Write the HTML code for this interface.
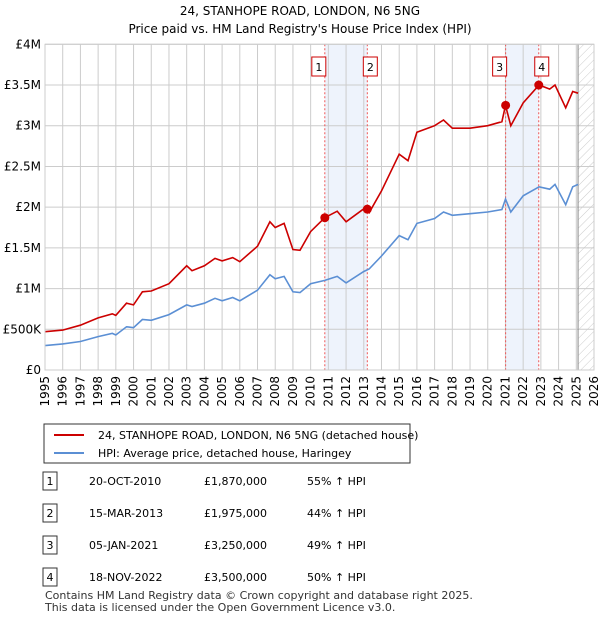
<!DOCTYPE html>
<html><head><meta charset="utf-8"><style>
body{margin:0;background:#fff;font-family:"Liberation Sans","DejaVu Sans",sans-serif;}
svg text{font-family:"DejaVu Sans","Liberation Sans",sans-serif;}
</style></head><body>
<svg id="chart" width="600" height="620" xmlns="http://www.w3.org/2000/svg">
<text x="300" y="15" text-anchor="middle" font-size="12">24, STANHOPE ROAD, LONDON, N6 5NG</text>
<text x="300" y="33" text-anchor="middle" font-size="12">Price paid vs. HM Land Registry's House Price Index (HPI)</text>
<g id="plot"></g>
<g>
<rect x="44" y="424" width="366" height="39" fill="#fff" stroke="#333"/>
<line x1="54" y1="435" x2="84" y2="435" stroke="#cc0000" stroke-width="2"/>
<text x="98" y="439" font-size="11">24, STANHOPE ROAD, LONDON, N6 5NG (detached house)</text>
<line x1="54" y1="453" x2="84" y2="453" stroke="#5b8fd4" stroke-width="2"/>
<text x="98" y="457" font-size="11">HPI: Average price, detached house, Haringey</text>
</g>
<g id="table" font-size="11"></g>
<text x="45" y="599" font-size="11" fill="#333">Contains HM Land Registry data © Crown copyright and database right 2025.</text>
<text x="45" y="611" font-size="11" fill="#333">This data is licensed under the Open Government Licence v3.0.</text>
</svg>
<script>
const hpiYears=[1995,1996,1997,1998,1998.8,1999,1999.6,2000,2000.5,2001,2002,2003,2003.3,2004,2004.6,2005,2005.6,2006,2007,2007.7,2008,2008.5,2009,2009.4,2010,2010.8,2011.5,2012,2013,2013.3,2014,2015,2015.5,2016,2017,2017.5,2018,2019,2020,2020.8,2021,2021.3,2022,2022.9,2023.5,2023.8,2024.4,2024.8,2025.1];
const hpiValues=[0.30,0.32,0.35,0.41,0.45,0.43,0.53,0.52,0.62,0.61,0.68,0.80,0.78,0.82,0.88,0.85,0.89,0.85,0.98,1.17,1.12,1.15,0.96,0.95,1.06,1.10,1.15,1.07,1.21,1.24,1.40,1.65,1.60,1.80,1.86,1.94,1.90,1.92,1.94,1.97,2.10,1.94,2.14,2.25,2.22,2.28,2.03,2.25,2.28];
const priceValues=[0.47,0.49,0.55,0.64,0.69,0.67,0.82,0.80,0.96,0.97,1.06,1.28,1.22,1.28,1.37,1.34,1.38,1.33,1.52,1.82,1.75,1.80,1.48,1.47,1.70,1.87,1.95,1.82,1.98,1.93,2.20,2.65,2.57,2.92,3.00,3.07,2.97,2.97,3.00,3.05,3.25,3.00,3.28,3.50,3.45,3.50,3.22,3.42,3.40];
const saleYears=[2010.8,2013.2,2021.01,2022.88];
const saleValues=[1.87,1.975,3.25,3.5];
const saleLabels=["1","2","3","4"];
const saleDates=["20-OCT-2010","15-MAR-2013","05-JAN-2021","18-NOV-2022"];
const salePrices=["£1,870,000","£1,975,000","£3,250,000","£3,500,000"];
const salePct=["55% ↑ HPI","44% ↑ HPI","49% ↑ HPI","50% ↑ HPI"];
const yTicks=[0,0.5,1,1.5,2,2.5,3,3.5,4];
const yTickLabels=["£0","£500K","£1M","£1.5M","£2M","£2.5M","£3M","£3.5M","£4M"];
const NS="http://www.w3.org/2000/svg";
const X0=45,X1=594,Y0=370,Y1=44.3;
const xs=y=>X0+(y-1995)*(X1-X0)/31;
const ys=v=>Y0-v*(Y0-Y1)/4;
const plot=document.getElementById('plot');
function mk(tag,attrs,parent){const e=document.createElementNS(NS,tag);for(const k in attrs)e.setAttribute(k,attrs[k]);(parent||plot).appendChild(e);return e;}
// shaded regions
for(let i=0;i<4;i+=2){const r=mk('rect',{x:xs(saleYears[i]),y:Y1,width:xs(saleYears[i+1])-xs(saleYears[i]),height:Y0-Y1,fill:'#eef3fc'});

}
// hatch
const defs=mk('defs',{});const pat=mk('pattern',{id:'h',width:6,height:6,patternUnits:'userSpaceOnUse',patternTransform:'rotate(45)'},defs);
mk('line',{x1:0,y1:0,x2:0,y2:6,stroke:'#ccc','stroke-width':1},pat);
const hr=mk('rect',{x:xs(2025.1),y:Y1,width:X1-xs(2025.1),height:Y0-Y1,fill:'url(#h)'});


for(let y=1995;y<=2026;y++){
 mk('line',{x1:xs(y),y1:Y1,x2:xs(y),y2:Y0,stroke:'#ccc','stroke-width':1});
 const t=mk('text',{x:0,y:0,'font-size':12,'text-anchor':'end',transform:`translate(${xs(y)+4},${Y0+6}) rotate(-90)`});t.textContent=y;
 
 
}
yTicks.forEach((v,i)=>{
 mk('line',{x1:X0,y1:ys(v),x2:X1,y2:ys(v),stroke:'#ccc','stroke-width':1});
 const t=mk('text',{x:X0-4,y:ys(v)+4,'font-size':12,'text-anchor':'end'});t.textContent=yTickLabels[i];
 
 
});
mk('line',{x1:xs(2025.1),y1:Y1,x2:xs(2025.1),y2:Y0,stroke:'#888','stroke-width':1});
saleYears.forEach((y,i)=>{
 mk('line',{x1:xs(y),y1:Y1,x2:xs(y),y2:Y0,stroke:'#e55','stroke-width':1,'stroke-dasharray':'2,2'});
});
const pts=a=>hpiYears.map((y,i)=>xs(y).toFixed(1)+','+ys(a[i]).toFixed(1)).join(' ');
const hl=mk('polyline',{points:pts(hpiValues),fill:'none',stroke:'#5b8fd4','stroke-width':1.6});


const pl=mk('polyline',{points:pts(priceValues),fill:'none',stroke:'#cc0000','stroke-width':1.6});


saleYears.forEach((y,i)=>{
 const c=mk('circle',{cx:xs(y),cy:ys(saleValues[i]),r:4.5,fill:'#cc0000'});
 
 
 const bx=xs(y)-(i%2==0?14:-2)-(i==0?-1:0);
 const g=mk('g',{});
 
 
 const lx=i==0||i==2?xs(y)-13:xs(y)-4;
 mk('rect',{x:lx,y:57,width:14,height:19,fill:'#fff',stroke:'#cc0000'},g);
 const t=mk('text',{x:lx+7,y:71,'font-size':11,'text-anchor':'middle'},g);t.textContent=saleLabels[i];
});
mk('rect',{x:X0,y:Y1,width:X1-X0,height:Y0-Y1,fill:'none',stroke:'#ccc'});
const tb=document.getElementById('table');
const rowY=[481,513,545,577];
saleLabels.forEach((l,i)=>{
 const g=mk('g',{},tb);
 
 
 mk('rect',{x:43,y:rowY[i]-9,width:14,height:18,fill:'#fff',stroke:'#333'},g);
 const a=mk('text',{x:50,y:rowY[i]+4,'text-anchor':'middle'},g);a.textContent=l;
 const b=mk('text',{x:89,y:rowY[i]+4},g);b.textContent=saleDates[i];
 const c=mk('text',{x:204,y:rowY[i]+4},g);c.textContent=salePrices[i];
 const d=mk('text',{x:307,y:rowY[i]+4},g);d.textContent=salePct[i];
});
</script>
</body></html>
